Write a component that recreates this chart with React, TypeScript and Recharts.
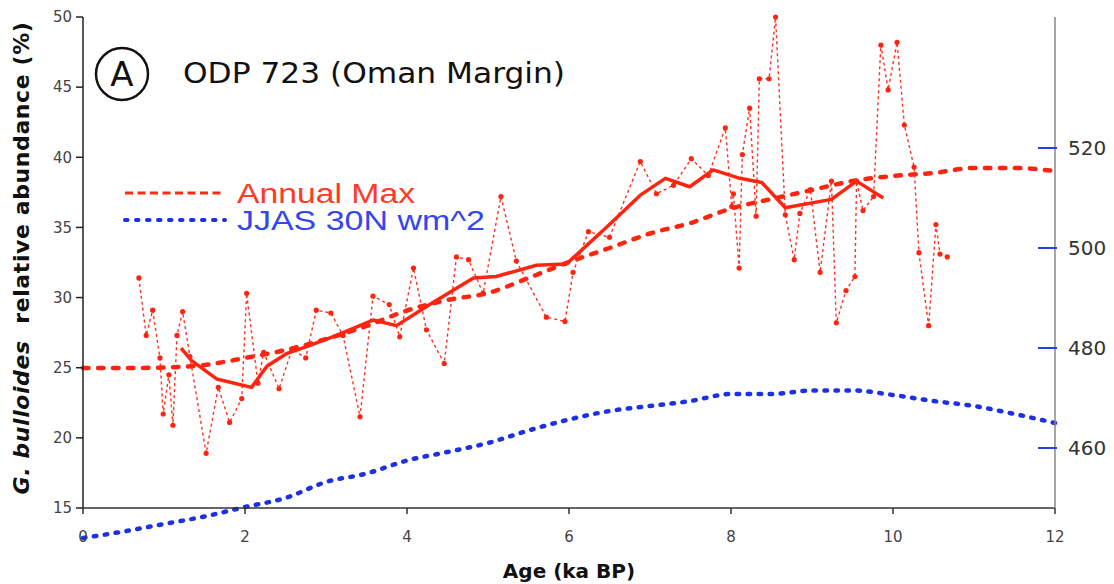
import React from 'react';
import { ComposedChart, Line, XAxis, YAxis, Legend } from 'recharts';

// axes
const ageTicks = [0, 2, 4, 6, 8, 10, 12];
const pctTicks = [15, 20, 25, 30, 35, 40, 45, 50];
const insTicks = [460, 480, 500, 520];

// G. bulloides samples (ka BP / %)
const sampleAge = [
  0.69, 0.78, 0.86, 0.95, 0.99, 1.06, 1.11, 1.16, 1.23, 1.32, 1.52, 1.67, 1.81, 1.96, 2.02, 2.16,
  2.23, 2.42, 2.58, 2.75, 2.88, 3.06, 3.21, 3.42, 3.58, 3.78, 3.91, 4.08, 4.24, 4.46, 4.61, 4.76,
  4.94, 5.16, 5.35, 5.72, 5.95, 6.05, 6.24, 6.5, 6.88, 7.08, 7.29, 7.51, 7.72, 7.93, 8.01, 8.03,
  8.1, 8.14, 8.23, 8.31, 8.35, 8.47, 8.55, 8.67, 8.78, 8.85, 8.98, 9.1, 9.24, 9.3, 9.42, 9.53,
  9.55, 9.63, 9.76, 9.85, 9.94, 10.05, 10.14, 10.26, 10.32, 10.44, 10.53, 10.58, 10.67,
];
const samplePct = [
  31.4, 27.3, 29.1, 25.7, 21.7, 24.5, 20.9, 27.3, 29.0, 25.8, 18.9, 23.6, 21.1, 22.8, 30.3, 23.9,
  26.1, 23.5, 26.3, 25.7, 29.1, 28.9, 27.3, 21.5, 30.1, 29.5, 27.2, 32.1, 27.7, 25.3, 32.9, 32.7,
  30.3, 37.2, 32.6, 28.6, 28.3, 31.8, 34.7, 34.3, 39.7, 37.4, 38.0, 39.9, 38.7, 42.1, 36.5, 37.4,
  32.1, 40.2, 43.5, 35.8, 45.6, 45.6, 50.0, 35.9, 32.7, 36.0, 37.7, 31.8, 38.3, 28.2, 30.5, 31.5,
  38.3, 36.2, 37.2, 48.0, 44.8, 48.2, 42.3, 39.3, 33.2, 28.0, 35.2, 33.1, 32.9,
];

// running mean
const meanAge = [
  1.21, 1.34, 1.65, 2.08, 2.27, 2.51, 2.76, 3.13, 3.58, 3.87, 4.28, 4.82, 5.1, 5.6, 5.97, 6.46,
  6.88, 7.19, 7.49, 7.78, 8.11, 8.38, 8.67, 9.24, 9.55, 9.88,
];
const meanPct = [
  26.4, 25.5, 24.2, 23.6, 25.1, 26.0, 26.5, 27.3, 28.4, 28.0, 29.5, 31.4, 31.5, 32.3, 32.4, 35.0,
  37.3, 38.5, 37.9, 39.1, 38.5, 38.2, 36.4, 37.0, 38.3, 37.1,
];

// insolation (W/m^2)
const insAge = [0, 0.5, 1, 1.5, 2, 2.5, 3, 3.5, 4, 4.5, 5, 5.5, 6, 6.5, 7, 7.5, 8, 8.5, 9, 9.5, 10, 10.5, 11, 11.5, 12];
const annualMax = [
  476.0, 476.0, 476.1, 476.6, 478.0, 479.6, 481.8, 484.4, 487.5, 489.6, 491.0, 494.0, 497.2,
  500.0, 502.9, 505.0, 507.9, 509.8, 511.6, 513.4, 514.4, 515.0, 516.0, 516.0, 515.4,
];
const jjas30N = [
  442.0, 443.3, 444.8, 446.3, 448.2, 450.0, 453.2, 454.9, 457.5, 459.2, 461.0, 463.5, 465.7,
  467.4, 468.4, 469.4, 470.8, 470.8, 471.5, 471.5, 470.6, 469.4, 468.4, 466.8, 465.0,
];

const legendItems = [
  { label: 'Annual Max', color: '#ff2a14', textColor: '#ff3a26', dash: '8 4.5', width: 3, cap: 'butt', len: 178 },
  { label: 'JJAS 30N wm^2', color: '#1c30e4', textColor: '#3446ee', dash: '2.5 8.5', width: 4, cap: 'round', len: 248 },
];

const RED = '#ff2410';
const BLUE = '#1c30e4';

const samples = sampleAge.map((age, i) => ({ age, pct: samplePct[i] }));
const means = meanAge.map((age, i) => ({ age, pct: meanPct[i] }));
const insolation = insAge.map((age, i) => ({ age, max: annualMax[i], jjas: jjas30N[i] }));

const InsTick = (props: any) => {
  const { x, y, payload } = props;
  return (
    <g>
      <line x1={x - 17} x2={x + 2} y1={y} y2={y} stroke="#2a3ee8" strokeWidth={2} />
      <text x={x + 13} y={y} dy="0.36em" fontFamily="DejaVu Sans" fontSize={20} fill="#333">
        {payload.value}
      </text>
    </g>
  );
};

const YLabel = () => (
  <text
    transform="translate(21, 258) rotate(-90)"
    textAnchor="middle"
    dy="0.36em"
    fontFamily="DejaVu Sans"
    fontWeight="bold"
    fontSize={22}
    letterSpacing={0.6}
    fill="#111"
  >
    <tspan fontStyle="italic">G. bulloides</tspan>
    <tspan>{'\u00a0\u00a0relative abundance (%)'}</tspan>
  </text>
);

const LegendBox = () => (
  <svg width={420} height={66} style={{ display: 'block' }}>
    {legendItems.map((item, i) => (
      <g key={item.label}>
        <line
          x1={5}
          x2={105}
          y1={21 + i * 27}
          y2={21 + i * 27}
          stroke={item.color}
          strokeWidth={item.width}
          strokeDasharray={item.dash}
          strokeLinecap={item.cap as any}
        />
        <text
          x={117}
          y={31 + i * 27}
          fontFamily="Liberation Sans"
          fontSize={27}
          fill={item.textColor}
          textLength={item.len}
          lengthAdjust="spacingAndGlyphs"
        >
          {item.label}
        </text>
      </g>
    ))}
  </svg>
);

export default function App() {
  return (
    <div style={{ position: 'absolute', left: 0, top: 0, width: 1114, height: 584, background: '#fff' }}>
      <style>{'.ins-line, .ins-line * { clip-path: none !important; }'}</style>
      <ComposedChart width={1114} height={584} margin={{ top: 17, right: 0, bottom: 0, left: 0 }}>
        <XAxis
          type="number"
          dataKey="age"
          domain={[0, 12]}
          ticks={ageTicks}
          height={76}
          tickSize={6}
          tickMargin={17}
          axisLine={{ stroke: '#333', strokeWidth: 1.5 }}
          tickLine={{ stroke: '#333', strokeWidth: 1.5 }}
          tick={{ fill: '#444', fontSize: 15, fontFamily: 'DejaVu Sans' }}
          label={{
            value: 'Age (ka BP)',
            position: 'insideBottom',
            offset: 6,
            fill: '#111',
            fontSize: 20,
            fontWeight: 'bold',
            fontFamily: 'DejaVu Sans',
          }}
        />
        <XAxis
          xAxisId="top"
          orientation="top"
          type="number"
          domain={[0, 12]}
          height={0}
          tick={false}
          tickLine={false}
          axisLine={{ stroke: '#999', strokeWidth: 1.5 }}
        />
        <YAxis
          yAxisId="pct"
          type="number"
          domain={[15, 50]}
          ticks={pctTicks}
          width={83}
          tickSize={7}
          tickMargin={4}
          axisLine={{ stroke: '#222', strokeWidth: 1.5 }}
          tickLine={{ stroke: '#222', strokeWidth: 1.5 }}
          tick={{ fill: '#444', fontSize: 15, fontFamily: 'DejaVu Sans' }}
          label={<YLabel />}
        />
        <YAxis
          yAxisId="ins"
          orientation="right"
          type="number"
          domain={[448, 546.2]}
          allowDataOverflow
          ticks={insTicks}
          width={59}
          tickSize={0}
          tickMargin={0}
          tickLine={false}
          axisLine={{ stroke: '#888', strokeWidth: 1.5 }}
          tick={<InsTick />}
        />
        <Legend
          layout="horizontal"
          verticalAlign="middle"
          align="center"
          wrapperStyle={{ position: 'absolute', left: 120, top: 172, width: 420, height: 66 }}
          content={() => <LegendBox />}
        />

        <Line
          className="ins-line"
          data={insolation}
          yAxisId="ins"
          dataKey="jjas"
          type="monotone"
          stroke={BLUE}
          strokeWidth={4.5}
          strokeDasharray="2.5 8.5"
          strokeLinecap="round"
          dot={false}
          isAnimationActive={false}
        />
        <Line
          className="ins-line"
          data={insolation}
          yAxisId="ins"
          dataKey="max"
          type="monotone"
          stroke={RED}
          strokeWidth={4.5}
          strokeDasharray="5.5 9.5"
          strokeLinecap="round"
          dot={false}
          isAnimationActive={false}
        />
        <Line
          data={samples}
          yAxisId="pct"
          dataKey="pct"
          type="linear"
          stroke="#ff3020"
          strokeWidth={1.4}
          strokeDasharray="3 3"
          dot={{ r: 2.6, fill: RED, stroke: 'none' }}
          isAnimationActive={false}
        />
        <Line
          data={means}
          yAxisId="pct"
          dataKey="pct"
          type="linear"
          stroke={RED}
          strokeWidth={3.5}
          strokeLinejoin="round"
          dot={false}
          isAnimationActive={false}
        />
      </ComposedChart>
      <svg
        width={1114}
        height={584}
        style={{ position: 'absolute', left: 0, top: 0, pointerEvents: 'none' }}
      >
        <circle cx={122} cy={74} r={26} fill="none" stroke="#111" strokeWidth={2.5} />
        <text x={122} y={74} dy="0.36em" textAnchor="middle" fontFamily="DejaVu Sans" fontSize={34} fill="#111">
          A
        </text>
        <text
          x={183}
          y={83}
          fontFamily="DejaVu Sans"
          fontSize={29}
          fill="#111"
          textLength={382}
          lengthAdjust="spacingAndGlyphs"
        >
          ODP 723 (Oman Margin)
        </text>
      </svg>
    </div>
  );
}
